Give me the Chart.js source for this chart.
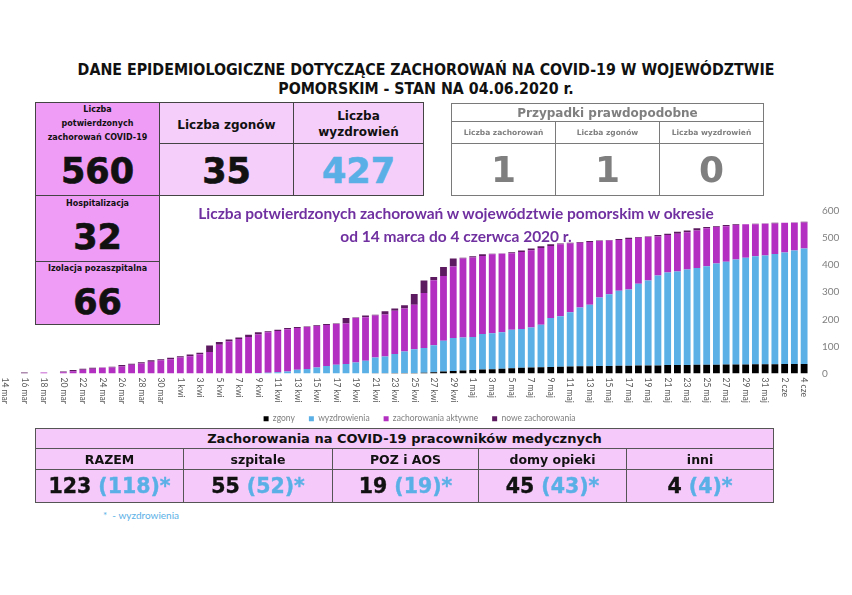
<!DOCTYPE html>
<html lang="pl">
<head>
<meta charset="utf-8">
<title>COVID-19 pomorskie 04.06.2020</title>
<script src="https://cdn.jsdelivr.net/npm/chart.js@4.4.0/dist/chart.umd.min.js"></script>
<style>
  html, body { margin: 0; padding: 0; background: #fff; }
  body { width: 852px; height: 595px; position: relative; overflow: hidden; font-family: "DejaVu Sans", sans-serif; }
  .abs { position: absolute; box-sizing: border-box; }
  .title { left: 0; top: 60px; width: 852px; text-align: center; font-family: "DejaVu Sans Condensed", "DejaVu Sans", sans-serif; font-stretch: condensed; font-weight: bold; font-size: 15.8px; line-height: 19px; color: #111; }
  .cell { position: absolute; box-sizing: border-box; border: 1px solid #444; }
  .pink { background: #ef9cf6; }
  .light { background: #f6cefa; }
  .txt { position: absolute; left: 0; right: 0; text-align: center; font-weight: bold; color: #111; }
  .big { font-size: 35px; line-height: 36px; -webkit-text-stroke: 0.7px currentColor; }
  .blue { color: #5ab0e6; }
  .chartTitle { left: 156px; top: 202px; width: 600px; text-align: center; font-family: Lato, sans-serif; font-weight: bold; font-size: 15.5px; line-height: 23px; color: #7030a0; }
  #wrap { position: absolute; left: 0; top: 192px; width: 852px; height: 241px; }
  table { position: absolute; border-collapse: collapse; table-layout: fixed; }
  td { padding: 0; text-align: center; vertical-align: middle; font-weight: bold; overflow: hidden; white-space: nowrap; }
  .prob td { border: 1.5px solid #7a7a7a; color: #7f7f7f; }
  .med td { border: 1px solid #555; background: #f5c9f9; color: #111; }
  .med .num { font-size: 20.5px; -webkit-text-stroke: 0.4px currentColor; }
  .num .blue { -webkit-text-stroke: 0.4px #5ab0e6; }
  .note { left: 103px; top: 509px; font-family: Lato, sans-serif; font-size: 10px; color: #5ab0e6; }
</style>
</head>
<body>

<div class="abs title">DANE EPIDEMIOLOGICZNE DOTYCZĄCE ZACHOROWAŃ NA COVID-19 W WOJEWÓDZTWIE<br>POMORSKIM - STAN NA 04.06.2020 r.</div>

<!-- kafelki po lewej -->
<div class="cell pink" style="left:35px;top:102px;width:125px;height:94px">
  <div class="txt" style="top:0;font-size:8px;line-height:14px">Liczba<br>potwierdzonych<br>zachorowań COVID-19</div>
  <div class="txt big" style="top:50px">560</div>
</div>
<div class="cell light" style="left:159px;top:102px;width:135px;height:42px">
  <div class="txt" style="top:14px;font-size:12px;line-height:16px">Liczba zgonów</div>
</div>
<div class="cell light" style="left:159px;top:143px;width:135px;height:53px">
  <div class="txt big" style="top:9px">35</div>
</div>
<div class="cell light" style="left:293px;top:102px;width:131px;height:42px">
  <div class="txt" style="top:5px;font-size:12px;line-height:16px">Liczba<br>wyzdrowień</div>
</div>
<div class="cell light" style="left:293px;top:143px;width:131px;height:53px">
  <div class="txt big blue" style="top:9px">427</div>
</div>

<div id="wrap"><canvas id="wykres"></canvas></div>

<div class="cell pink" style="left:35px;top:195px;width:125px;height:67px">
  <div class="txt" style="top:2px;font-size:8px;line-height:12px">Hospitalizacja</div>
  <div class="txt big" style="top:23px">32</div>
</div>
<div class="cell pink" style="left:35px;top:261px;width:125px;height:64px">
  <div class="txt" style="top:1px;font-size:8px;line-height:12px">Izolacja pozaszpitalna</div>
  <div class="txt big" style="top:22px">66</div>
</div>

<!-- przypadki prawdopodobne -->
<table class="prob" style="left:451px;top:103px;width:312px">
  <colgroup><col style="width:104px"><col style="width:104px"><col style="width:104px"></colgroup>
  <tr style="height:18px"><td colspan="3" style="font-size:12px">Przypadki prawdopodobne</td></tr>
  <tr style="height:22px"><td style="font-size:7.5px">Liczba zachorowań</td><td style="font-size:7.5px">Liczba zgonów</td><td style="font-size:7.5px">Liczba wyzdrowień</td></tr>
  <tr style="height:52px"><td style="font-size:36px">1</td><td style="font-size:36px">1</td><td style="font-size:36px">0</td></tr>
</table>

<div class="abs chartTitle">Liczba potwierdzonych zachorowań w województwie pomorskim w okresie<br>od 14 marca do 4 czerwca 2020 r.</div>

<!-- pracownicy medyczni -->
<table class="med" style="left:35px;top:428px;width:738px">
  <colgroup><col style="width:148px"><col style="width:149px"><col style="width:146px"><col style="width:148px"><col style="width:147px"></colgroup>
  <tr style="height:20px"><td colspan="5" style="font-size:13px">Zachorowania na COVID-19 pracowników medycznych</td></tr>
  <tr style="height:21px"><td style="font-size:12.5px">RAZEM</td><td style="font-size:12.5px">szpitale</td><td style="font-size:12.5px">POZ i AOS</td><td style="font-size:12.5px">domy opieki</td><td style="font-size:12.5px">inni</td></tr>
  <tr style="height:33px">
    <td class="num">123 <span class="blue">(118)*</span></td>
    <td class="num">55 <span class="blue">(52)*</span></td>
    <td class="num">19 <span class="blue">(19)*</span></td>
    <td class="num">45 <span class="blue">(43)*</span></td>
    <td class="num">4 <span class="blue">(4)*</span></td>
  </tr>
</table>
<div class="abs note">* &nbsp;- wyzdrowienia</div>

<script>
// dni od 14 marca do 4 czerwca 2020
const dni = [
  '14 mar','15 mar','16 mar','17 mar','18 mar','19 mar','20 mar','21 mar','22 mar','23 mar',
  '24 mar','25 mar','26 mar','27 mar','28 mar','29 mar','30 mar','31 mar',
  '1 kwi','2 kwi','3 kwi','4 kwi','5 kwi','6 kwi','7 kwi','8 kwi','9 kwi','10 kwi',
  '11 kwi','12 kwi','13 kwi','14 kwi','15 kwi','16 kwi','17 kwi','18 kwi','19 kwi','20 kwi',
  '21 kwi','22 kwi','23 kwi','24 kwi','25 kwi','26 kwi','27 kwi','28 kwi','29 kwi','30 kwi',
  '1 maj','2 maj','3 maj','4 maj','5 maj','6 maj','7 maj','8 maj','9 maj','10 maj',
  '11 maj','12 maj','13 maj','14 maj','15 maj','16 maj','17 maj','18 maj','19 maj','20 maj',
  '21 maj','22 maj','23 maj','24 maj','25 maj','26 maj','27 maj','28 maj','29 maj','30 maj','31 maj',
  '1 cze','2 cze','3 cze','4 cze'
];

const zgony = [
  0,0,0,0,0,0,0,0,0,0, 0,0,0,0,0,0,0,0,0,0, 0,0,0,0,0,0,0,0,0,0, 0,0,0,0,0,0,0,0,
  1,1,2,2,2,3,5,7,9,11, 13,15,16,18,19,21,22,23,24,25, 26,27,27,28,28,29,29,30,30,30,
  31,31,31,32,32,32,33,33,33,34, 34,34,35,35,35
];

const wyzdrowienia = [
  0,0,0,0,0,0,0,0,0,0, 0,0,0,0,0,0,0,0,0,0, 0,0,0,0,0,0,
  2,3,5,7,14,17,22,28,32,35,41,47,
  58,62,70,79,88,91,99,114,122,122,
  122,131,133,134,143,143,148,157,181,186,
  200,217,227,253,265,277,281,301,313,332,
  342,346,353,358,364,374,380,388,394,399,
  402,407,412,419,427
];

const aktywne = [
  0,0,0,0,4,0,5,8,14,18,
  21,22,26,32,37,43,49,53,59,64,
  71,79,106,118,127,135,142,149,152,156,
  154,155,153,151,151,150,164,161,155,155,
  160,159,164,203,240,239,264,292,293,288,
  291,290,282,285,285,283,266,266,254,239,
  232,208,198,187,187,170,161,144,138,139,
  138,138,140,135,131,127,124,118,117,113,
  110,103,96
];

const nowe = [
  0,0,4,0,0,0,2,5,4,3,
  1,3,5,4,5,6,4,5,5,6,
  6,24,10,8,6,8,8,4,5,5,
  4,2,3,4,2,20,2,6,3,12,
  8,12,40,46,12,33,30,2,5,6,
  2,1,4,5,7,7,6,3,3,3,
  3,2,2,4,4,3,2,5,5,7,
  6,8,5,3,4,3,0,2,1,3,
  0,1,2
];

const osY = [0, 100, 200, 300, 400, 500, 600];

// etykiety dat pionowo, czytane z gory na dol (co drugi dzien)
const etykietyX = {
  id: 'etykietyX',
  afterDraw(chart) {
    const ctx = chart.ctx;
    const x = chart.scales.x;
    ctx.save();
    ctx.font = '8.5px Lato';
    ctx.fillStyle = '#595959';
    ctx.textAlign = 'left';
    ctx.textBaseline = 'middle';
    dni.forEach((d, i) => {
      if (i % 2) return;
      ctx.save();
      ctx.translate(x.getPixelForValue(i), x.top + 4);
      ctx.rotate(Math.PI / 2);
      ctx.fillText(d, 0, 0);
      ctx.restore();
    });
    ctx.restore();
  }
};

const ctx = document.getElementById('wykres').getContext('2d');
new Chart(ctx, {
  type: 'bar',
  data: {
    labels: dni,
    datasets: [
      { label: 'zgony', data: zgony, backgroundColor: '#000000' },
      { label: 'wyzdrowienia', data: wyzdrowienia, backgroundColor: '#5bb1e6' },
      { label: 'zachorowania aktywne', data: aktywne, backgroundColor: '#b22fc1' },
      { label: 'nowe zachorowania', data: nowe, backgroundColor: '#5e1a60' }
    ]
  },
  options: {
    responsive: true,
    maintainAspectRatio: false,
    animation: false,
    datasets: { bar: { barPercentage: 0.7, categoryPercentage: 1 } },
    layout: { padding: { top: 2, right: 13, left: 0, bottom: 0 } },
    plugins: {
      tooltip: { enabled: false },
      legend: {
        position: 'bottom',
        labels: {
          boxWidth: 5, boxHeight: 5, padding: 14,
          color: '#7f7f7f',
          font: { family: 'Lato', size: 8.5 }
        }
      }
    },
    scales: {
      x: {
        stacked: true,
        grid: { display: false, drawTicks: false },
        border: { display: false },
        ticks: { display: false },
        afterFit(scale) { scale.height = 27; }
      },
      y: {
        stacked: true,
        position: 'right',
        min: osY[0],
        max: osY[osY.length - 1],
        grid: { display: false, drawTicks: false },
        border: { display: false },
        ticks: {
          stepSize: 100,
          padding: 13,
          color: '#7f7f7f',
          font: { family: 'Lato', size: 10 }
        },
        afterFit(scale) { scale.width = 30; }
      }
    }
  },
  plugins: [etykietyX]
});
</script>
</body>
</html>
